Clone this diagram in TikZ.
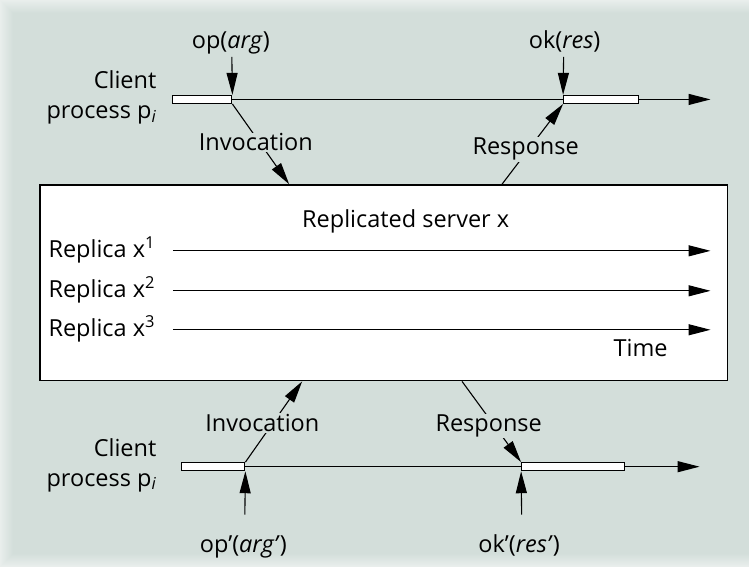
\documentclass[tikz,border=0pt]{standalone}
\usepackage{fontspec}
\setmainfont{Open Sans}
\usetikzlibrary{arrows.meta}
\definecolor{paper}{RGB}{211,222,218}

\begin{document}
\begin{tikzpicture}[x=1pt, y=-1pt, line width=1.1pt,
  >={Triangle[length=22pt,width=11pt]},
  font=\fontsize{23.5}{30}\selectfont]

  \tikzset{
    procbox/.style={draw, fill=white, inner sep=0pt, minimum height=8pt},
    txt/.style={inner sep=0pt, anchor=base},
    cut/.style={fill=paper, inner sep=1pt, anchor=base}
  }

  %% background with a light rim
  \fill[paper] (0,0) rectangle (749,567);
  \foreach \i in {0,...,12}
    \draw[white, opacity={0.5-0.038*\i}, line width=1pt]
      (749,\i+.5) -- (\i+.5,\i+.5) -- (\i+.5,566.5-\i) -- (749,566.5-\i);

  %% replicated server
  \node[draw, fill=white, line width=1.3pt, inner sep=0pt,
        minimum width=688pt, minimum height=196pt] (srv) at (384,283) {};
  \node[txt] (title) at (406,228) {Replicated server x};
  \foreach \k/\yy in {1/251, 2/291, 3/330}{
    \node[anchor=base west, inner sep=0pt] (rep\k) at (48,\yy+7) {Replica x\textsuperscript{\k}};
    \coordinate (rs\k) at (173,\yy);
    \coordinate (re\k) at (711,\yy);
    \draw[->] (rs\k) -- (re\k); % replica timeline
  }
  \node[txt] (time) at (641,357) {Time};

  %% client above
  \node[procbox, minimum width=59pt] (pa) at (202.5,99.5) {};
  \node[procbox, minimum width=75pt] (pb) at (601.5,99.5) {};
  \coordinate (pend) at (711,99.5);
  \draw (pa.east) -- (pb.west);
  \draw[->] (pb.east) -- (pend);
  \node[align=right, anchor=north east, inner sep=0pt] (cliA) at (157,70)
    {Client\\process p\textsubscript{\textit{i}}};

  \node[txt] (op) at (231,49) {op(\textit{arg})};
  \coordinate (optail) at (232,57);
  \draw[->] (optail) -- (pa.north east); % op -> p
  \node[txt] (ok) at (565,49) {ok(\textit{res})};
  \coordinate (oktail) at (564,57);
  \draw[->] (oktail) -- (pb.north west); % ok -> p

  \coordinate (invA) at ([xshift=250pt]srv.north west);
  \draw[->] (pa.south east) -- (invA); % p -> x
  \node[cut] (invAl) at (256,151) {Invocation};
  \coordinate (resA) at ([xshift=463pt]srv.north west);
  \draw[->] (resA) -- (pb.south west); % x -> p
  \node[cut] (resAl) at (526,155) {Response};

  %% client below
  \node[procbox, minimum width=63pt] (qa) at (213.5,467) {};
  \node[procbox, minimum width=103pt] (qb) at (573.5,467) {};
  \coordinate (qend) at (700,467);
  \draw (qa.east) -- (qb.west);
  \draw[->] (qb.east) -- (qend);
  \node[align=right, anchor=north east, inner sep=0pt] (cliB) at (157,438)
    {Client\\process p\textsubscript{\textit{i}}};

  \node[txt] (opb) at (243.5,553) {op'(\textit{arg'})};
  \coordinate (opbtail) at (245,515);
  \draw[->] (opbtail) -- (qa.south east); % op' -> p
  \node[txt] (okb) at (519.5,553) {ok'(\textit{res'})};
  \coordinate (okbtail) at (522,515);
  \draw[->] (okbtail) -- (qb.south west); % ok' -> p

  \coordinate (invB) at ([xshift=263pt]srv.south west);
  \draw[->] (qa.north east) -- (invB); % p -> x
  \node[cut] (invBl) at (262.5,432) {Invocation};
  \coordinate (resB) at ([xshift=423pt]srv.south west);
  \draw[->] (resB) -- (qb.north west); % x -> p
  \node[cut] (resBl) at (489,432) {Response};
\end{tikzpicture}
\end{document}
